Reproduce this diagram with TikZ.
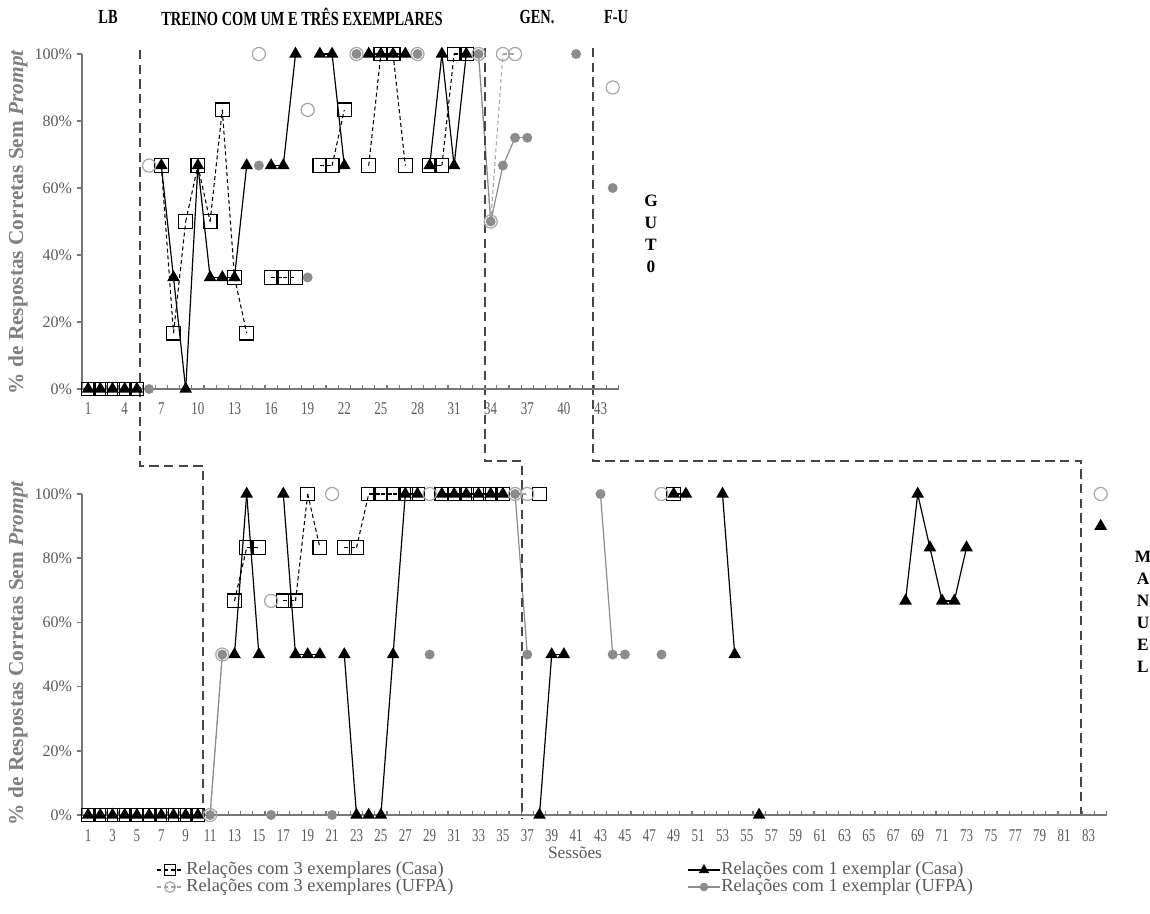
\documentclass[tikz,border=0pt]{standalone}
\usepackage{fontspec}
\setmainfont{Liberation Serif}
\newfontfamily\narrow{Liberation Serif}[FakeStretch=0.72]
\usetikzlibrary{shapes.geometric}
\definecolor{tickgray}{RGB}{89,89,89}
\definecolor{axisgray}{RGB}{120,120,120}
\definecolor{dotgray}{RGB}{140,140,140}
\definecolor{ringgray}{RGB}{165,165,165}
\definecolor{phasegray}{RGB}{70,70,70}
\pgfdeclarelayer{bg}
\pgfsetlayers{bg,main}

\begin{document}
\begin{tikzpicture}[x=0.75pt,y=-0.75pt,
  sqmark/.style={draw=black, line width=0.9pt, rectangle, minimum size=10.3pt, inner sep=0pt},
  trimark/.style={fill=black, regular polygon, regular polygon sides=3, minimum size=11pt, inner sep=0pt},
  ringmark/.style={draw=ringgray, line width=0.9pt, circle, minimum size=9.8pt, inner sep=0pt},
  dotmark/.style={fill=dotgray, circle, minimum size=7.5pt, inner sep=0pt},
  sqline/.style={black, dash pattern=on 3pt off 2.2pt, line width=0.8pt},
  triline/.style={black, line width=0.9pt},
  ringline/.style={ringgray, dash pattern=on 3pt off 2.2pt, line width=0.8pt},
  dotline/.style={dotgray, line width=0.9pt},
  axis/.style={axisgray, line width=1.2pt},
  phaseline/.style={phasegray, line width=1pt, dash pattern=on 7pt off 4pt},
  xlbl/.style={text=tickgray, font=\narrow\fontsize{13.5}{13.5}\selectfont, inner sep=0pt},
  ylbl/.style={text=tickgray, font=\fontsize{12}{12}\selectfont, inner sep=0pt, anchor=east},
  phasetitle/.style={font=\narrow\bfseries\fontsize{15}{15}\selectfont},
  subject/.style={font=\bfseries\fontsize{13}{16.5}\selectfont, align=center},
  ytitle/.style={rotate=90, text=black!50, font=\bfseries\fontsize{16}{16}\selectfont},
  legtext/.style={anchor=west, text=tickgray, font=\fontsize{13.8}{13.8}\selectfont, inner sep=0pt}]

\useasboundingbox (0,0) rectangle (1150,914);

% phase titles %
\node[phasetitle] (lb) at (108,17) {LB};
\node[phasetitle] (treino) at (302,17) {TREINO COM UM E TRÊS EXEMPLARES};
\node[phasetitle] (gen) at (537,17) {GEN.};
\node[phasetitle] (fu) at (616,17) {F-U};

% phase lines %
\draw[phaseline] (140,50) -- (140,466) -- (203,466) -- (203,815);
\draw[phaseline] (485,48) -- (485,461) -- (522,461) -- (522,818);
\draw[phaseline] (593,48) -- (593,461) -- (1081,461) -- (1081,815);

% axis titles %
\node[ytitle] (ytop) at (18,222) {\% de Respostas Corretas Sem \textit{Prompt}};
\node[ytitle] (ybot) at (18,653) {\% de Respostas Corretas Sem \textit{Prompt}};
\node[subject] (guto) at (651,234) {G\\U\\T\\0};
\node[subject] (manuel) at (1143,612) {M\\A\\N\\U\\E\\L};

%%%%%%%%%%%%%% GUTO %%%%%%%%%%%%%%
\begin{scope}[shift={(75.9,389)},x=9.15pt,y=2.5125pt]
  % axes %
  \draw[axis] (0.5,100) -- (0.5,0) -- (44.5,0);
  \foreach \p in {0,20,...,100} {
    \draw[axis] (0.5,\p) -- (0.1,\p);
    \node[ylbl] (gy\p) at (-0.3,\p) {\p\%};
  }
  \foreach \s in {1,...,44} \draw[axis, line width=0.8pt] (\s+0.5,0) -- (\s+0.5,1.3);
  \foreach \s in {1,4,...,43} \node[xlbl] (gx\s) at (\s,-5.8) {\s};

  % markers %
  \foreach \s/\p in {1/0,2/0,3/0,4/0,5/0,7/66.7,8/16.7,9/50,10/66.7,11/50,12/83.3,13/33.3,14/16.7,
      16/33.3,17/33.3,18/33.3,20/66.7,21/66.7,22/83.3,24/66.7,25/100,26/100,27/66.7,
      29/66.7,30/66.7,31/100,32/100}
    \node[sqmark] (gq\s) at (\s,\p) {};
  \foreach \s/\p in {1/0,2/0,3/0,4/0,5/0,7/66.7,8/33.3,9/0,10/66.7,11/33.3,12/33.3,13/33.3,14/66.7,
      16/66.7,17/66.7,18/100,20/100,21/100,22/66.7,24/100,25/100,26/100,27/100,
      29/66.7,30/100,31/66.7,32/100}
    \node[trimark] (gt\s) at (\s,\p) {};
  \foreach \s/\p in {6/66.7,15/100,19/83.3,23/100,28/100,33/100,34/50,35/100,36/100,44/90}
    \node[ringmark] (go\s) at (\s,\p) {};
  \foreach \s/\p in {6/0,15/66.7,19/33.3,23/100,28/100,33/100,34/50,35/66.7,36/75,37/75,41/100,44/60}
    \node[dotmark] (gd\s) at (\s,\p) {};

  % lines (each session to the next one) %
  \begin{pgfonlayer}{bg}
    \foreach \k [evaluate=\k as \n using int(\k+1)] in {1,2,3,4,7,8,9,10,11,12,13,16,17,20,21,24,25,26,29,30,31} {
      \draw[sqline] (gq\k.center) -- (gq\n.center);
      \draw[triline] (gt\k.center) -- (gt\n.center);
    }
    \foreach \k [evaluate=\k as \n using int(\k+1)] in {33,34,35}
      \draw[ringline] (go\k.center) -- (go\n.center);
    \foreach \k [evaluate=\k as \n using int(\k+1)] in {33,34,35,36}
      \draw[dotline] (gd\k.center) -- (gd\n.center);
  \end{pgfonlayer}
\end{scope}

%%%%%%%%%%%%%% MANUEL %%%%%%%%%%%%%%
\begin{scope}[shift={(75.9,815)},x=9.15pt,y=2.4075pt]
  % axes %
  \draw[axis] (0.5,100) -- (0.5,0) -- (84.5,0);
  \foreach \p in {0,20,...,100} {
    \draw[axis] (0.5,\p) -- (0.1,\p);
    \node[ylbl] (my\p) at (-0.3,\p) {\p\%};
  }
  \foreach \s in {1,...,84} \draw[axis, line width=0.8pt] (\s+0.5,0) -- (\s+0.5,1.3);
  \foreach \s in {1,3,...,83} \node[xlbl] (mx\s) at (\s,-6.3) {\s};

  % markers %
  \foreach \s/\p in {1/0,2/0,3/0,4/0,5/0,6/0,7/0,8/0,9/0,10/0,13/66.7,14/83.3,15/83.3,
      17/66.7,18/66.7,19/100,20/83.3,22/83.3,23/83.3,24/100,25/100,26/100,27/100,28/100,
      30/100,31/100,32/100,33/100,34/100,35/100,38/100,49/100}
    \node[sqmark] (mq\s) at (\s,\p) {};
  \foreach \s/\p in {1/0,2/0,3/0,4/0,5/0,6/0,7/0,8/0,9/0,10/0,13/50,14/100,15/50,
      17/100,18/50,19/50,20/50,22/50,23/0,24/0,25/0,26/50,27/100,28/100,
      30/100,31/100,32/100,33/100,34/100,35/100,38/0,39/50,40/50,49/100,50/100,
      53/100,54/50,56/0,68/66.7,69/100,70/83.3,71/66.7,72/66.7,73/83.3,84/90}
    \node[trimark] (mt\s) at (\s,\p) {};
  \foreach \s/\p in {11/0,12/50,16/66.7,21/100,29/100,36/100,37/100,48/100,84/100}
    \node[ringmark] (mo\s) at (\s,\p) {};
  \foreach \s/\p in {11/0,12/50,16/0,21/0,29/50,36/100,37/50,43/100,44/50,45/50,48/50}
    \node[dotmark] (md\s) at (\s,\p) {};

  % lines (each session to the next one) %
  \begin{pgfonlayer}{bg}
    \foreach \k [evaluate=\k as \n using int(\k+1)] in {1,2,3,4,5,6,7,8,9,13,14,17,18,19,22,23,24,25,26,27,30,31,32,33,34} {
      \draw[sqline] (mq\k.center) -- (mq\n.center);
      \draw[triline] (mt\k.center) -- (mt\n.center);
    }
    \foreach \k [evaluate=\k as \n using int(\k+1)] in {38,39,49,53,68,69,70,71,72}
      \draw[triline] (mt\k.center) -- (mt\n.center);
    \foreach \k [evaluate=\k as \n using int(\k+1)] in {11,36}
      \draw[ringline] (mo\k.center) -- (mo\n.center);
    \foreach \k [evaluate=\k as \n using int(\k+1)] in {11,36,43,44}
      \draw[dotline] (md\k.center) -- (md\n.center);
  \end{pgfonlayer}
\end{scope}

% x title and legend %
\node[text=tickgray, font=\fontsize{13}{13}\selectfont] (sessoes) at (575,853) {Sessões};

\node[sqmark, minimum size=8pt] (lgq) at (170,870) {};
\node[legtext] (lgqt) at (186,870) {Relações com 3 exemplares (Casa)};
\node[ringmark, minimum size=8pt] (lgo) at (170,887) {};
\node[legtext] (lgot) at (186,887) {Relações com 3 exemplares (UFPA)};
\node[trimark, minimum size=9pt] (lgt) at (704,870) {};
\node[legtext] (lgtt) at (721,870) {Relações com 1 exemplar (Casa)};
\node[dotmark, minimum size=6.5pt] (lgd) at (704,887) {};
\node[legtext] (lgdt) at (721,887) {Relações com 1 exemplar (UFPA)};
\begin{pgfonlayer}{bg}
  \draw[sqline] ([xshift=-10pt]lgq.center) -- ([xshift=10pt]lgq.center);
  \draw[ringline] ([xshift=-10pt]lgo.center) -- ([xshift=10pt]lgo.center);
  \draw[triline] ([xshift=-12pt]lgt.center) -- ([xshift=12pt]lgt.center);
  \draw[dotline] ([xshift=-12pt]lgd.center) -- ([xshift=12pt]lgd.center);
\end{pgfonlayer}
\end{tikzpicture}
\end{document}
